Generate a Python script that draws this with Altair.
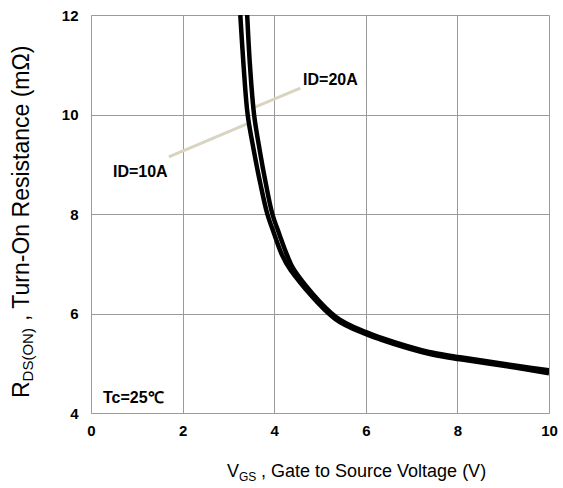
import altair as alt
import pandas as pd

# ---- data ----
vgs_10a = [3.26, 3.33, 3.42, 3.55, 3.70, 3.85, 4.00, 4.16, 4.36, 5.33, 6.02, 6.31, 6.89, 7.47, 8.06, 8.64, 9.29, 10.0]
rds_10a = [12.0, 11.0, 10.0, 9.3, 8.6, 8.0, 7.6, 7.2, 6.87, 5.89, 5.58, 5.48, 5.31, 5.17, 5.08, 5.00, 4.91, 4.80]
vgs_20a = [3.41, 3.47, 3.56, 3.68, 3.82, 3.96, 4.11, 4.27, 4.44, 5.35, 6.02, 6.31, 6.89, 7.47, 8.06, 8.64, 9.29, 10.0]
rds_20a = [12.0, 11.0, 10.0, 9.3, 8.6, 8.0, 7.6, 7.2, 6.87, 5.93, 5.62, 5.52, 5.35, 5.21, 5.12, 5.04, 4.95, 4.86]

x_ticks = [0, 2, 4, 6, 8, 10]
y_ticks = [4, 6, 8, 10, 12]

lead_20_x = [4.57, 3.58]
lead_20_y = [10.53, 10.15]
lead_10_x = [1.70, 3.46]
lead_10_y = [9.15, 9.83]

label_text = ["ID=20A", "ID=10A", "Tc=25℃"]
label_x = [4.63, 0.48, 0.26]
label_y = [10.69, 8.84, 4.30]

FONT = "Liberation Sans"
W, H = 458, 398

curves = pd.concat([
    pd.DataFrame({"vgs": vgs_10a, "rds": rds_10a, "id": "10A", "o": range(len(vgs_10a))}),
    pd.DataFrame({"vgs": vgs_20a, "rds": rds_20a, "id": "20A", "o": range(len(vgs_20a))}),
])
leaders = pd.concat([
    pd.DataFrame({"vgs": lead_20_x, "rds": lead_20_y, "id": "20A"}),
    pd.DataFrame({"vgs": lead_10_x, "rds": lead_10_y, "id": "10A"}),
])
labels = pd.DataFrame({"t": label_text, "vgs": label_x, "rds": label_y})

xs = alt.Scale(domain=[0, 10], nice=False, zero=False)
ys = alt.Scale(domain=[4, 12], nice=False, zero=False)

x_axis = alt.Axis(values=x_ticks, title=None, grid=True, gridColor="#9a9a9a", gridWidth=1,
                  ticks=False, domain=False, labelFont=FONT, labelFontSize=15,
                  labelFontWeight="bold", labelColor="black", labelPadding=10,
                  labelFlush=False)
y_axis = alt.Axis(values=y_ticks, title=None, grid=True, gridColor="#9a9a9a", gridWidth=1,
                  ticks=False, domain=False, labelFont=FONT, labelFontSize=15,
                  labelFontWeight="bold", labelColor="black", labelPadding=13,
                  labelFlush=False)

base = alt.Chart(curves).mark_line(color="black", strokeWidth=4.5, strokeJoin="round",
                                   interpolate="catmull-rom", clip=True).encode(
    x=alt.X("vgs:Q", scale=xs, axis=x_axis),
    y=alt.Y("rds:Q", scale=ys, axis=y_axis),
    detail="id:N",
    order="o:Q",
)

lead = alt.Chart(leaders).mark_line(color="#d8d4c0", strokeWidth=3).encode(
    x=alt.X("vgs:Q", scale=xs), y=alt.Y("rds:Q", scale=ys), detail="id:N"
)

lab = alt.Chart(labels).mark_text(font=FONT, fontSize=16, fontWeight="bold",
                                  align="left", baseline="middle", color="black").encode(
    x=alt.X("vgs:Q", scale=xs), y=alt.Y("rds:Q", scale=ys), text="t:N"
)


def txt(s, px, py, size, angle=0):
    kw = dict(text=s, font=FONT, fontSize=size, align="left", baseline="alphabetic",
              color="black")
    if angle:
        kw["angle"] = angle
    return alt.Chart(pd.DataFrame({"a": [0]})).mark_text(**kw).encode(
        x=alt.value(px), y=alt.value(py))


# x-axis title: V_GS , Gate to Source Voltage (V)
xt1 = txt("V", 136, 462, 18)
xt2 = txt("GS", 148, 466, 12)
xt3 = txt(", Gate to Source Voltage (V)", 170, 462, 18)

# y-axis title: R_DS(ON) , Turn-On Resistance (mΩ)
yt1 = txt("R", -62, 383, 23, 270)
yt2 = txt("DS(ON)", -58, 366.4, 15, 270)
yt3 = txt(", Turn-On Resistance (mΩ)", -62, 306, 23, 270)

chart = alt.layer(lead, base, lab, xt1, xt2, xt3, yt1, yt2, yt3).properties(
    width=W, height=H,
    autosize=alt.AutoSizeParams(type="none"),
    padding={"left": 91, "top": 15, "right": 14, "bottom": 75},
).configure_view(stroke="black", strokeWidth=1.2).configure(background="white")

chart.save("out.html", embed_options={"renderer": "svg", "actions": False})
